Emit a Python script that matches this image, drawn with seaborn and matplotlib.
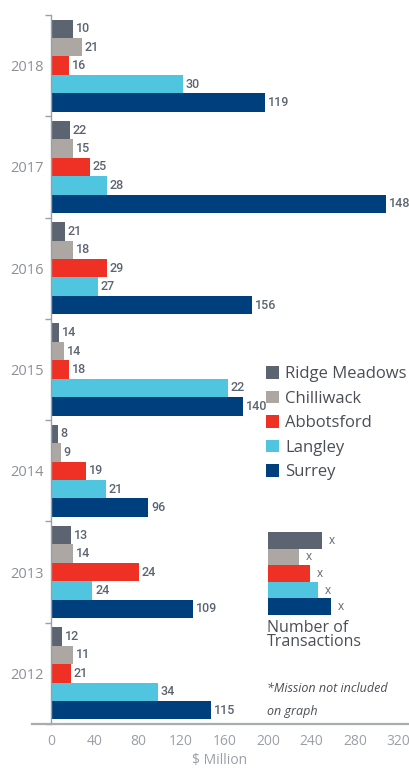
import matplotlib
matplotlib.use('Agg')
import matplotlib.pyplot as plt
import seaborn as sns
import pandas as pd
import numpy as np

# ---------------- data ----------------
years = ['2018', '2017', '2016', '2015', '2014', '2013', '2012']
cities = ['Ridge Meadows', 'Chilliwack', 'Abbotsford', 'Langley', 'Surrey']

# $ Million (bar lengths)
ridge_meadows_value = [20, 17.5, 13, 7.5, 6.5, 18.5, 10]
chilliwack_value = [28.5, 20.5, 20.5, 12, 9, 20.5, 20.5]
abbotsford_value = [16.5, 36, 51.5, 16.5, 32, 81, 18.5]
langley_value = [121.5, 51.5, 43.5, 163, 50.5, 38, 98.5]
surrey_value = [197, 308.5, 185, 177, 89.5, 131, 147.5]

# Number of transactions (bar labels)
ridge_meadows_count = [10, 22, 21, 14, 8, 13, 12]
chilliwack_count = [21, 15, 18, 14, 9, 14, 11]
abbotsford_count = [16, 25, 29, 18, 19, 24, 21]
langley_count = [30, 28, 27, 22, 21, 24, 34]
surrey_count = [119, 148, 156, 140, 96, 109, 115]

x_ticks = [0, 40, 80, 120, 160, 200, 240, 280, 320]
key_lengths = [54, 31, 42, 50, 63]   # illustrative key bars
key_labels = ['x', 'x', 'x', 'x', 'x']

colors = ['#5b6470', '#aca7a2', '#ef3125', '#4fc5df', '#003f7e']

values = [ridge_meadows_value, chilliwack_value, abbotsford_value, langley_value, surrey_value]
counts = [ridge_meadows_count, chilliwack_count, abbotsford_count, langley_count, surrey_count]

rows = []
for c, vals in zip(cities, values):
    for y, v in zip(years, vals):
        rows.append({'Year': y, 'City': c, 'Value': v})
df = pd.DataFrame(rows)

# ---------------- style ----------------
sns.set_theme(style='white')
plt.rcParams['font.family'] = ['Open Sans', 'DejaVu Sans']

W, H = 410, 769
fig = plt.figure(figsize=(W / 100, H / 100), dpi=100)
ax = fig.add_axes([32 / W, 45 / H, (408 - 32) / W, (724 - 15) / H])

sns.barplot(data=df, y='Year', x='Value', hue='City', order=years, hue_order=cities,
            palette=colors, orient='h', width=0.91, saturation=1, linewidth=0,
            errorbar=None, ax=ax)

for cont, cnt in zip(ax.containers, counts):
    ax.bar_label(cont, labels=[str(v) for v in cnt], padding=2, fontsize=9,
                 color='#5b6470', family=['Roboto', 'DejaVu Sans'], fontweight='medium')

ax.set_xlim(-17.5, 329)
ax.set_ylim(6.5, -0.5)

for s in ['top', 'right']:
    ax.spines[s].set_visible(False)
ax.spines['left'].set_position(('data', 0))
ax.spines['left'].set_color('#9aa0a6')
ax.spines['left'].set_linewidth(1)
ax.spines['bottom'].set_color('#a8adb2')
ax.spines['bottom'].set_linewidth(1.6)

ax.set_xticks(x_ticks)
ax.set_xticklabels([str(t) for t in x_ticks])
ax.tick_params(axis='x', length=0, pad=7, labelsize=10, labelcolor='#9aa0a6')
ax.set_yticks(range(len(years)))
ax.set_yticklabels(years)
ax.tick_params(axis='y', which='major', length=0, pad=5, labelsize=10.5, labelcolor='#8c9197')
ax.set_yticks(np.arange(-0.5, len(years), 1), minor=True)
ax.tick_params(axis='y', which='minor', length=4, width=1, color='#9aa0a6', left=True)
ax.set_ylabel('')
ax.set_xlabel(r'\$ Million', fontsize=10, color='#9aa0a6', labelpad=3)

handles, labels = ax.get_legend_handles_labels()
ax.legend(handles, labels, loc='upper left', bbox_to_anchor=(266 / W, 1 - 366 / H),
          bbox_transform=fig.transFigure, frameon=False, fontsize=12,
          handlelength=0.8, handleheight=0.8, handletextpad=0.35, labelspacing=0.5,
          borderpad=0, borderaxespad=0, labelcolor='#4a4f55')

# ---------------- key: number of transactions ----------------
ax2 = fig.add_axes([268 / W, 1 - 615 / H, 80 / W, (615 - 532) / H])
key_df = pd.DataFrame({'City': cities, 'Len': key_lengths})
sns.barplot(data=key_df, y='City', x='Len', hue='City', hue_order=cities, order=cities,
            palette=colors, orient='h', width=1.0, saturation=1, linewidth=0,
            legend=False, ax=ax2)
for cont, lab in zip(ax2.containers, key_labels):
    ax2.bar_label(cont, labels=[lab], padding=5, fontsize=8.5, color='#5b6470')
ax2.set_xlim(0, 80)
ax2.set_ylim(4.5, -0.5)
ax2.axis('off')

fig.text(267 / W, 1 - 620 / H, 'Number of\nTransactions', ha='left', va='top',
         fontsize=11.5, color='#4a4f55', linespacing=0.85)
fig.text(267 / W, 1 - 688 / H, '*Mission not included', ha='left', va='center',
         fontsize=9, color='#4a4f55', style='italic')
fig.text(267 / W, 1 - 711 / H, 'on graph', ha='left', va='center',
         fontsize=9, color='#4a4f55', style='italic')

fig.savefig('out.png', dpi=100)
